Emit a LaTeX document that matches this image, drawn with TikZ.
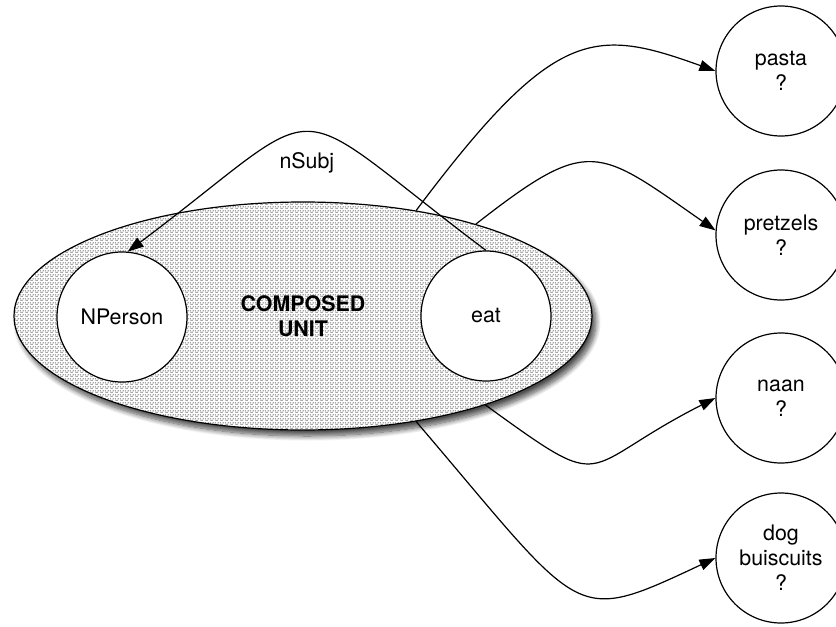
\documentclass[tikz,border=0pt]{standalone}
\usepackage{fontspec}
\setmainfont{TeX Gyre Heros}
\usetikzlibrary{arrows.meta,shapes.geometric,patterns,shadows.blur}
\pgfdeclarepatternformonly{stagdash}{\pgfqpoint{0pt}{0pt}}{\pgfqpoint{5pt}{3.6pt}}{\pgfqpoint{5pt}{3.6pt}}{%
  \pgfpathrectangle{\pgfqpoint{0.5pt}{0pt}}{\pgfqpoint{3pt}{1.3pt}}%
  \pgfpathrectangle{\pgfqpoint{3pt}{1.8pt}}{\pgfqpoint{2pt}{1.3pt}}%
  \pgfpathrectangle{\pgfqpoint{0pt}{1.8pt}}{\pgfqpoint{1pt}{1.3pt}}%
  \pgfusepath{fill}}
\tikzset{
  circnode/.style={circle, draw, fill=white, line width=1.2pt, minimum size=130pt,
    inner sep=0pt, align=center},
  unitnode/.style={ellipse, draw, line width=1.2pt, minimum width=578pt, minimum height=228pt,
    inner sep=0pt, align=center, font=\fontsize{21.4pt}{25pt}\selectfont\bfseries,
    blur shadow={shadow xshift=4pt, shadow yshift=-6pt, shadow blur radius=5pt,
      shadow blur steps=10, shadow opacity=70},
    preaction={fill=white}, pattern=stagdash, pattern color=gray!70},
  arr/.style={line width=1.2pt, -{Triangle[length=16pt,width=11pt]}},
  lbl/.style={inner sep=2pt}
}
\begin{document}
\begin{tikzpicture}[x=1pt,y=1pt,font=\fontsize{21.4pt}{25pt}\selectfont]
\path[use as bounding box] (0,0) rectangle (836,-627);
\clip (0,0) rectangle (836,-627);
\node[unitnode] (unit) at (303,-316) {COMPOSED\\UNIT};
\node[circnode] (nperson) at (122,-317) {NPerson};
\node[circnode] (eat) at (486,-316) {eat};
\node[circnode] (pasta) at (781,-71) {pasta\\?};
\node[circnode] (pretzels) at (781,-235) {pretzels\\?};
\node[circnode] (naan) at (781,-398) {naan\\?};
\node[circnode] (dog) at (781,-558) {dog\\buiscuits\\?};
\draw[arr] (eat.north) .. controls +(-210,158) and +(210,158) .. (nperson.85)
  node[lbl, pos=0.5, below=17pt] (nsubj) {nSubj};
\draw[arr] (unit.43) .. controls +(138,184) and +(-122,44) .. (pasta.west);
\draw[arr] (unit.28) .. controls +(114,89) and +(-119,83) .. (pretzels.176);
\draw[arr] (unit.-26) .. controls +(127,-92) and +(-140,-71) .. (naan.west);
\draw[arr] (unit.-43) .. controls +(169,-198) and +(-145,-68) .. (dog.west);
\end{tikzpicture}
\end{document}
